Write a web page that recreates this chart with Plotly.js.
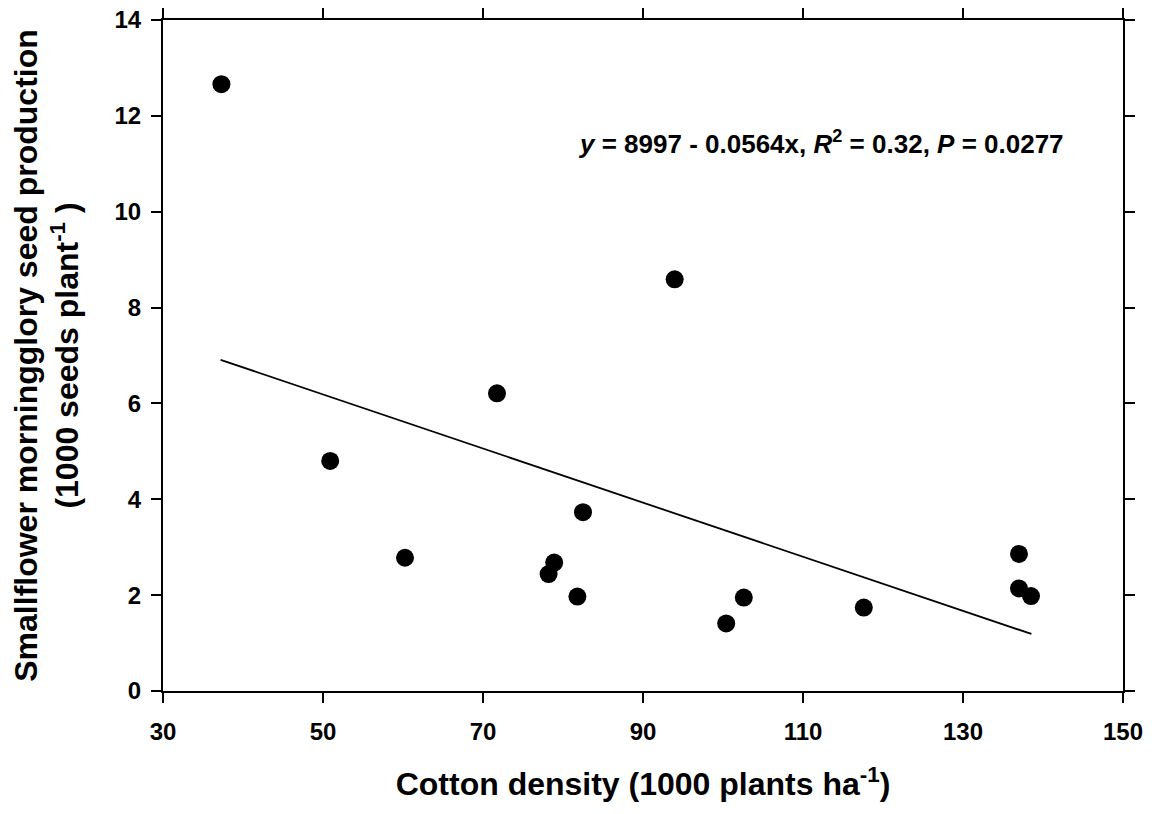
<!DOCTYPE html>
<html>
<head>
<meta charset="utf-8">
<script src="https://cdn.plot.ly/plotly-3.0.1.min.js"></script>
<style>html,body{margin:0;padding:0;background:#fff;}#chart{width:1152px;height:814px;}</style>
</head>
<body>
<div id="chart"></div>
<script>
// Cotton density (1000 plants ha-1)
const cottonDensity = [37.3, 50.9, 60.25, 71.75, 78.2, 78.9, 81.8, 82.5, 93.96, 100.4, 102.6, 117.6, 137.0, 137.0, 138.5];
// Smallflower morningglory seed production (1000 seeds plant-1)
const seedProduction = [12.66, 4.80, 2.78, 6.21, 2.44, 2.68, 1.97, 3.73, 8.59, 1.41, 1.95, 1.74, 2.86, 2.14, 1.98];
// Regression line endpoints
const fitX = [37.2, 138.55];
const fitY = [6.91, 1.19];
const xTicks = [30, 50, 70, 90, 110, 130, 150];
const yTicks = [0, 2, 4, 6, 8, 10, 12, 14];

const FONT = "'Liberation Sans', Arial, sans-serif";

const traces = [
  {
    x: fitX, y: fitY, mode: 'lines', type: 'scatter',
    line: {color: '#000', width: 1.8}, hoverinfo: 'skip', showlegend: false
  },
  {
    x: cottonDensity, y: seedProduction, mode: 'markers', type: 'scatter',
    marker: {color: '#000', size: 18, line: {width: 0}}, showlegend: false
  }
];

const axisCommon = {
  showgrid: false, zeroline: false, showline: true, linecolor: '#000', linewidth: 2,
  mirror: 'ticks', ticks: 'outside', ticklen: 10, tickwidth: 2, tickcolor: '#000',
  tickfont: {family: FONT, size: 24, color: '#000', weight: 'bold'}
};

const layout = {
  width: 1152, height: 814,
  paper_bgcolor: '#fff', plot_bgcolor: '#fff',
  margin: {l: 163, r: 29, t: 20, b: 123},
  xaxis: Object.assign({}, axisCommon, {
    range: [30, 150], tickvals: xTicks, ticktext: xTicks.map(String),
    ticklabelstandoff: 8,
    title: {text: 'Cotton density (1000 plants ha<sup>-1</sup>)', font: {family: FONT, size: 32, color: '#000', weight: 'bold'}, standoff: 29}
  }),
  yaxis: Object.assign({}, axisCommon, {
    range: [0, 14], tickvals: yTicks, ticktext: yTicks.map(String),
    ticklabelstandoff: 5,
    title: {text: 'Smallflower morningglory seed production<br>(1000 seeds plant<sup>-1</sup> )', font: {family: FONT, size: 32, color: '#000', weight: 'bold'}, standoff: 26}
  }),
  annotations: [{
    x: 112.2, y: 11.45, xref: 'x', yref: 'y', xanchor: 'center', yanchor: 'middle', showarrow: false,
    text: '<i>y</i> = 8997 - 0.0564x, <i>R</i><sup>2</sup> = 0.32, <i>P</i> = 0.0277',
    font: {family: FONT, size: 26, color: '#000', weight: 'bold'}
  }]
};

Plotly.newPlot('chart', traces, layout, {displayModeBar: false, staticPlot: true});
</script>
</body>
</html>
